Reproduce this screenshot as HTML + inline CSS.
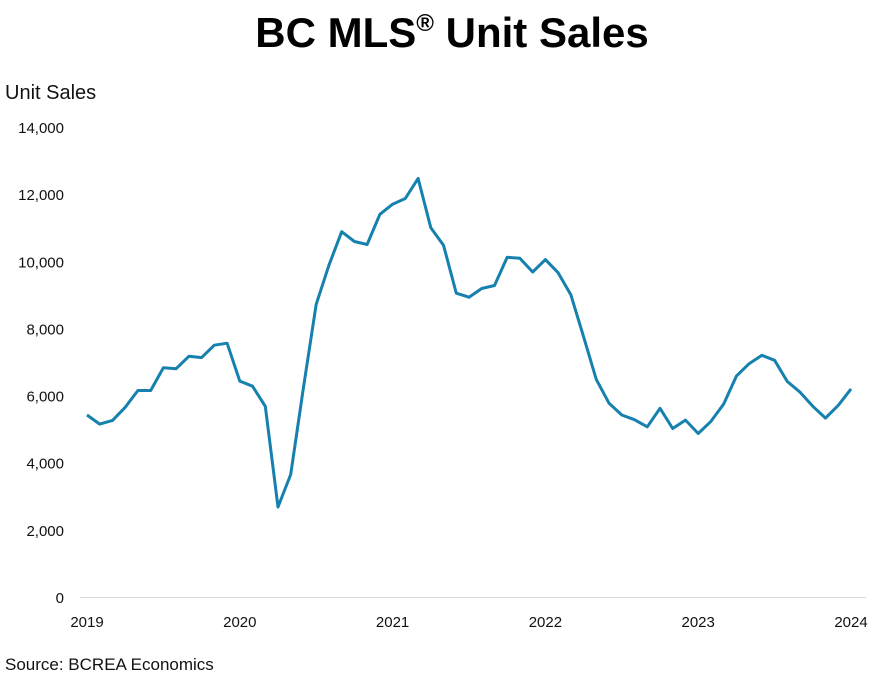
<!DOCTYPE html>
<html><head><meta charset="utf-8">
<style>
html,body{margin:0;padding:0;background:#fff;}
body{width:890px;height:676px;overflow:hidden;font-family:"Liberation Sans",sans-serif;}
</style></head>
<body>
<svg width="890" height="676" viewBox="0 0 890 676">
  <text x="452" y="47" text-anchor="middle" font-size="42" font-weight="bold" fill="#000">BC MLS<tspan font-size="24" dy="-16">®</tspan><tspan dy="16"> Unit Sales</tspan></text>
  <text x="5" y="99" font-size="20" fill="#111">Unit Sales</text>
  <text x="5" y="670" font-size="17" fill="#111">Source: BCREA Economics</text>
  <line x1="80" y1="597.5" x2="866" y2="597.5" stroke="#d9d9d9" stroke-width="1"/>
  <g id="yticks"></g>
  <g id="xticks"></g>
  <path id="line" fill="none" stroke="#1680ae" stroke-width="3" stroke-linejoin="round"/>
</svg>
<script>
const yTickValues = [0,2000,4000,6000,8000,10000,12000,14000];
const xTickLabels = ["2019","2020","2021","2022","2023","2024"];
const sales = [
5420,5150,5260,5650,6150,6150,6830,6800,7170,7130,7500,7560,
6430,6280,5680,2680,3650,6250,8720,9880,10880,10590,10500,11400,
11700,11870,12470,11000,10480,9050,8930,9190,9280,10120,10090,9680,
10050,9660,9000,7750,6480,5770,5420,5280,5070,5620,5020,5270,
4870,5230,5750,6580,6950,7200,7050,6420,6100,5680,5330,5710,
6200];
const x0 = 87, x1 = 851, y0 = 597, yTop = 127, yMax = 14000;
function xScale(i){ return x0 + (x1 - x0) * i / (sales.length - 1); }
function yScale(v){ return y0 - (y0 - yTop) * v / yMax; }
const NS = "http://www.w3.org/2000/svg";
const yg = document.getElementById("yticks");
yTickValues.forEach(v => {
  const t = document.createElementNS(NS, "text");
  t.setAttribute("x", 64);
  t.setAttribute("y", yScale(v) + 6);
  t.setAttribute("text-anchor", "end");
  t.setAttribute("font-size", "15");
  t.setAttribute("fill", "#111");
  t.textContent = v.toLocaleString("en-US");
  
  
  yg.appendChild(t);
});
const xg = document.getElementById("xticks");
xTickLabels.forEach((lab, k) => {
  const t = document.createElementNS(NS, "text");
  t.setAttribute("x", xScale(k * 12));
  t.setAttribute("y", 627);
  t.setAttribute("text-anchor", "middle");
  t.setAttribute("font-size", "15");
  t.setAttribute("fill", "#111");
  t.textContent = lab;
  
  
  xg.appendChild(t);
});
document.getElementById("line").setAttribute("d",
  sales.map((v, i) => (i ? "L" : "M") + xScale(i).toFixed(1) + "," + yScale(v).toFixed(1)).join(" "));
</script>
</body></html>
